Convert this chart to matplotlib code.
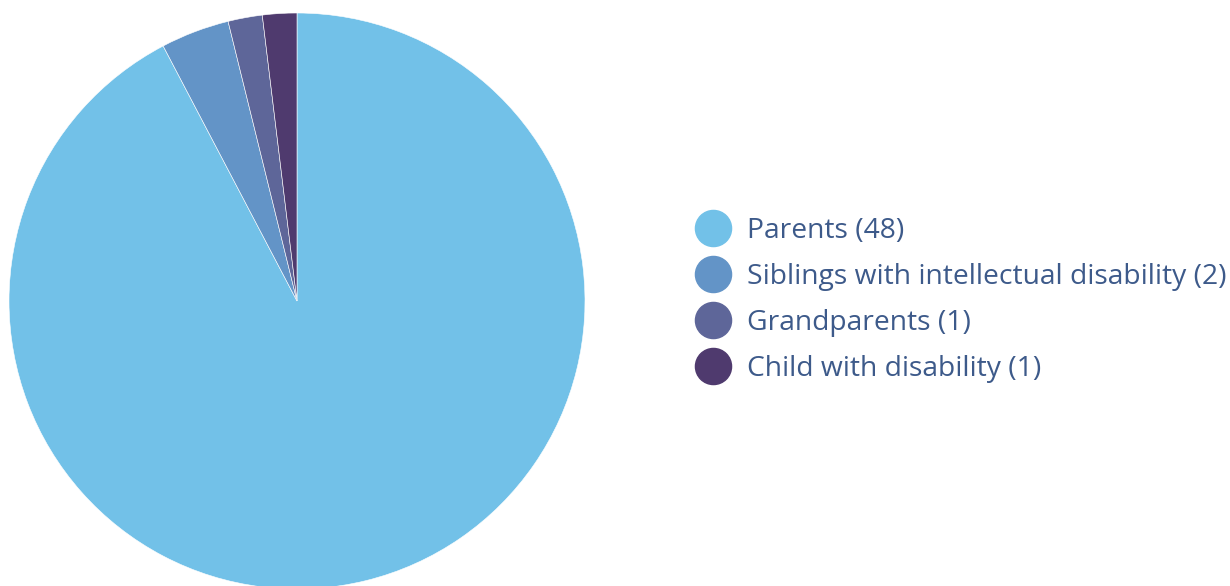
import matplotlib
matplotlib.use("Agg")
import matplotlib.pyplot as plt
from matplotlib.lines import Line2D

# data
labels = ["Parents", "Siblings with intellectual disability", "Grandparents", "Child with disability"]
counts = [48, 2, 1, 1]
colors = ["#72C1E8", "#6394C7", "#5E6699", "#4F3A6E"]
text_color = "#3D5A8A"

W, H = 1230, 586
fig = plt.figure(figsize=(W / 100, H / 100), dpi=100)

# pie axes: centre ~ (297, 301) px from top-left, radius ~288 px
r = 288
ax = fig.add_axes([(297 - r) / W, (H - 301 - r) / H, 2 * r / W, 2 * r / H])
ax.pie(counts, colors=colors, startangle=90, counterclock=False,
       wedgeprops=dict(linewidth=0.4, edgecolor="white"))
ax.set_xlim(-1, 1)
ax.set_ylim(-1, 1)
ax.set_aspect("equal")
ax.axis("off")

handles = [Line2D([], [], marker="o", linestyle="", markersize=26,
                  markerfacecolor=c, markeredgecolor=c) for c in colors]
leg_labels = [f"{l} ({n})" for l, n in zip(labels, counts)]
leg = fig.legend(handles, leg_labels, loc="center left",
                 bbox_to_anchor=(694 / W, (H - 300) / H), frameon=False,
                 prop=dict(family="Open Sans", size=20.3),
                 labelspacing=0.63, handletextpad=0.52, handlelength=1.35,
                 borderaxespad=0, borderpad=0)
for t in leg.get_texts():
    t.set_color(text_color)

fig.savefig("out.png", dpi=100)
